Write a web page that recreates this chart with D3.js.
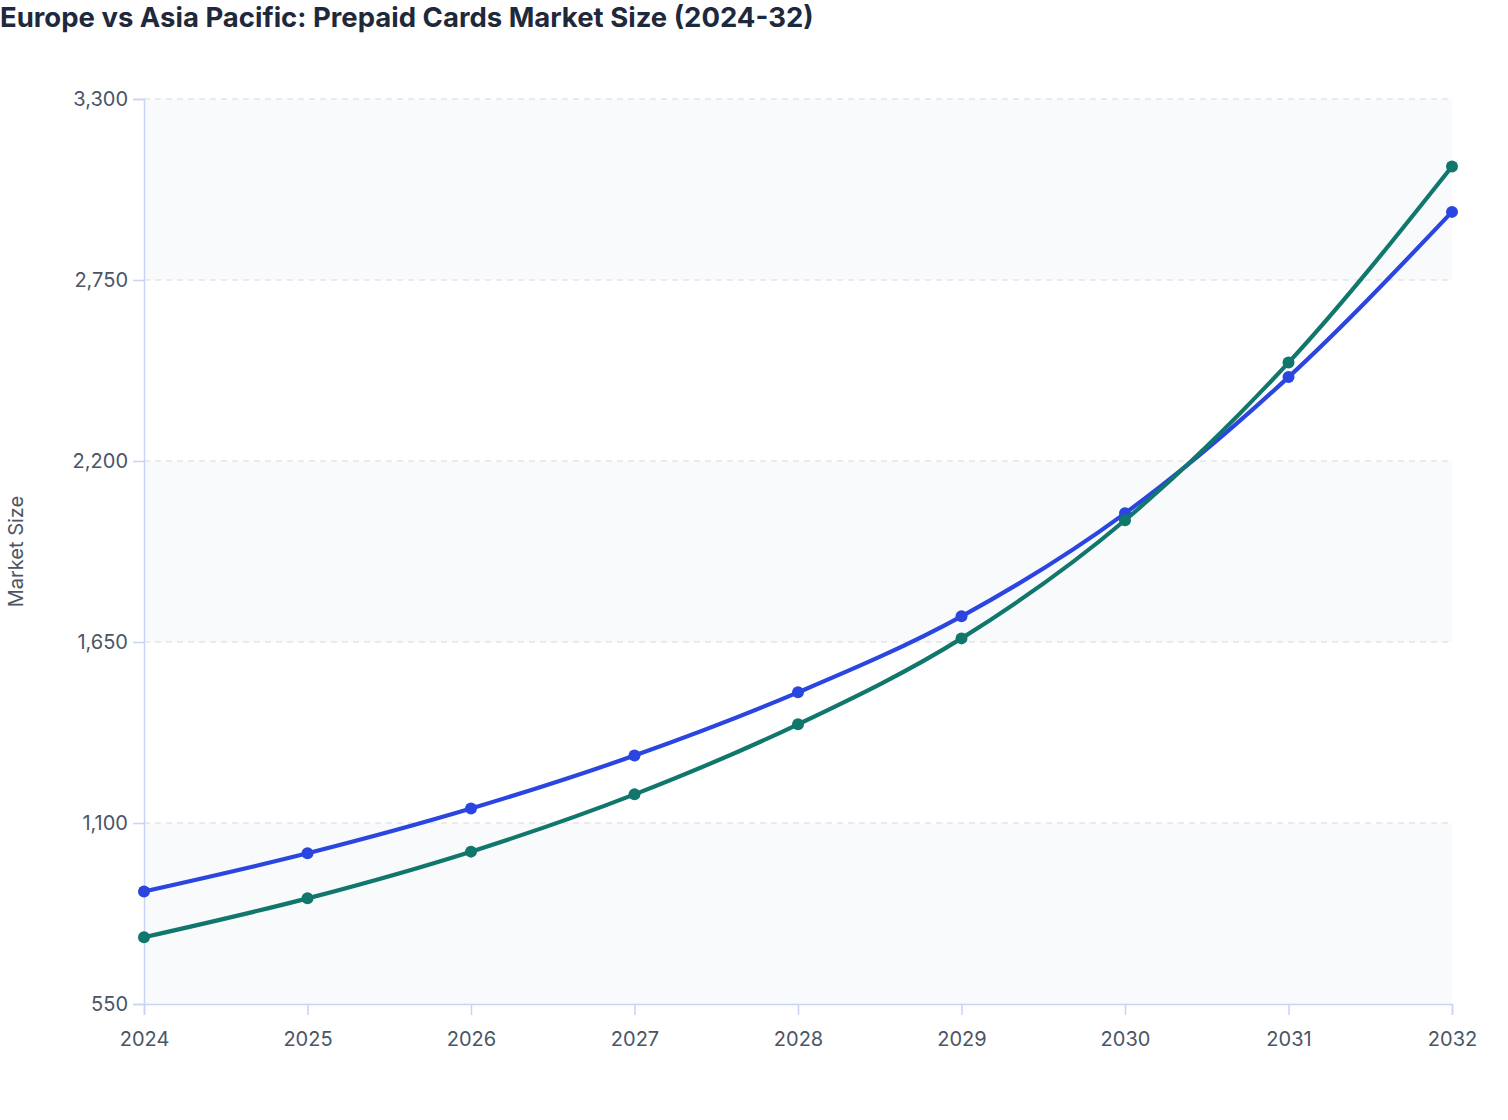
<!DOCTYPE html>
<html>
<head>
<meta charset="utf-8">
<script src="https://cdn.jsdelivr.net/npm/d3@7"></script>
<style>
    body { margin: 0; background: #fff; }
    svg text { font-family: Inter, "Noto Sans", sans-serif; }
</style>
</head>
<body>
<svg id="chart"></svg>
<script>
// values
var years = [2024, 2025, 2026, 2027, 2028, 2029, 2030, 2031, 2032];
var europe = [892, 1008, 1144, 1305, 1497, 1728, 2041, 2455, 2957];
var asiaPacific = [753, 871, 1013, 1187, 1400, 1661, 2020, 2499, 3095];
var yTicks = [550, 1100, 1650, 2200, 2750, 3300];

var width = 1508, height = 1120;
var margin = {top: 99, right: 56, bottom: 116, left: 144};

var svg = d3.select("#chart")
    .attr("width", width)
    .attr("height", height);

var x = d3.scaleLinear()
    .domain([years[0], years[years.length - 1]])
    .range([margin.left, width - margin.right]);

var y = d3.scaleLinear()
    .domain([yTicks[0], yTicks[yTicks.length - 1]])
    .range([height - margin.bottom, margin.top]);

// alternating bands, shaded every other interval
for (var i = 0; i < yTicks.length - 1; i++) {
    if (i % 2 == 0) {
        svg.append("rect")
            .attr("x", x.range()[0])
            .attr("width", x.range()[1] - x.range()[0])
            .attr("y", y(yTicks[i + 1]))
            .attr("height", y(yTicks[i]) - y(yTicks[i + 1]))
            .attr("fill", "#f8fafc");
    }
}

// dashed grid
svg.append("g")
    .selectAll("line")
    .data(yTicks.slice(1))
    .join("line")
    .attr("x1", x.range()[0])
    .attr("x2", x.range()[1])
    .attr("y1", function (d) { return y(d); })
    .attr("y2", function (d) { return y(d); })
    .attr("stroke", "#e2e5ec")
    .attr("stroke-width", 1.5)
    .attr("stroke-dasharray", "6,5");

var axisColor = "#c9d3f5";
var textColor = "#4b5565";

var xAxis = svg.append("g")
    .attr("transform", "translate(0," + y.range()[0] + ")")
    .call(d3.axisBottom(x).tickValues(years).tickFormat(d3.format("d")).tickSize(11).tickPadding(17));

var yAxis = svg.append("g")
    .attr("transform", "translate(" + x.range()[0] + ",0)")
    .call(d3.axisLeft(y).tickValues(yTicks).tickFormat(d3.format(",")).tickSize(11).tickPadding(5));

[xAxis, yAxis].forEach(function (g) {
    g.select(".domain").attr("stroke", axisColor).attr("stroke-width", 1.5);
    g.selectAll(".tick line").attr("stroke", axisColor).attr("stroke-width", 1.5);
    g.selectAll(".tick text")
        .attr("fill", textColor)
        .style("font-size", "20px");
});

// axis title
svg.append("text")
    .attr("transform", "translate(23," + (y.range()[0] + y.range()[1]) / 2 + ") rotate(-90)")
    .attr("text-anchor", "middle")
    .attr("fill", textColor)
    .style("font-size", "20px")
    .text("Market Size");

// title
svg.append("text")
    .attr("x", 0)
    .attr("y", 27)
    .attr("fill", "#1e293b")
    .style("font-size", "27.5px")
    .style("font-weight", "700")
    .text("Europe vs Asia Pacific: Prepaid Cards Market Size (2024-32)");

var line = d3.line()
    .x(function (d, i) { return x(years[i]); })
    .y(function (d) { return y(d); })
    .curve(d3.curveMonotoneX);

var series = [
    {name: "Europe", values: europe, color: "#2b45e0"},
    {name: "Asia Pacific", values: asiaPacific, color: "#11766c"}
];

series.forEach(function (s) {
    svg.append("path")
        .datum(s.values)
        .attr("fill", "none")
        .attr("stroke", s.color)
        .attr("stroke-width", 4.2)
        .attr("d", line);

    svg.append("g")
        .selectAll("circle")
        .data(s.values)
        .join("circle")
        .attr("cx", function (d, i) { return x(years[i]); })
        .attr("cy", function (d) { return y(d); })
        .attr("r", 6)
        .attr("fill", s.color);
});
</script>
</body>
</html>
